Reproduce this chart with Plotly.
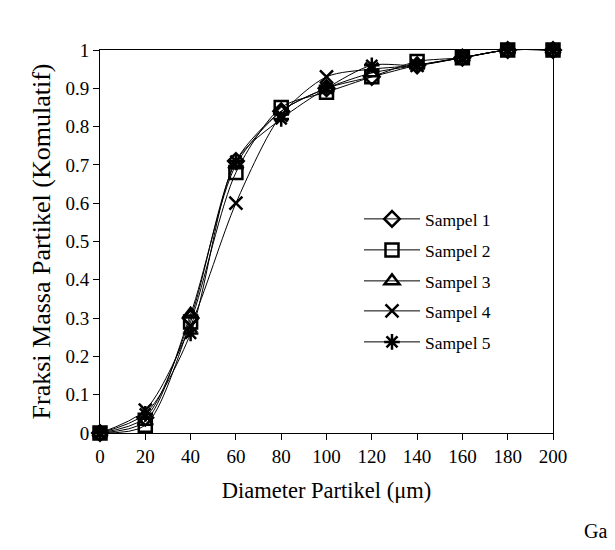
import plotly.graph_objects as go

diameter = [0, 20, 40, 60, 80, 100, 120, 140, 160, 180, 200]
sampel1 = [0, 0.04, 0.30, 0.71, 0.84, 0.90, 0.93, 0.96, 0.98, 1.0, 1.0]
sampel2 = [0, 0.02, 0.29, 0.68, 0.85, 0.89, 0.93, 0.97, 0.98, 1.0, 1.0]
sampel3 = [0, 0.03, 0.31, 0.70, 0.84, 0.90, 0.94, 0.96, 0.98, 1.0, 1.0]
sampel4 = [0, 0.06, 0.28, 0.60, 0.83, 0.93, 0.95, 0.96, 0.98, 1.0, 1.0]
sampel5 = [0, 0.05, 0.26, 0.71, 0.82, 0.90, 0.96, 0.96, 0.98, 1.0, 1.0]
names = ["Sampel 1", "Sampel 2", "Sampel 3", "Sampel 4", "Sampel 5"]
series = [sampel1, sampel2, sampel3, sampel4, sampel5]
symbols = ["diamond-open", "square-open", "triangle-up-open", "x-thin-open", "asterisk-open"]
sizes = [12, 13, 13, 13, 13]
legend_ids = ["legend", "legend2", "legend3", "legend4", "legend5"]

FONT = "Liberation Serif"
fig = go.Figure()
for name, ys, sym, sz, lg in zip(names, series, symbols, sizes, legend_ids):
    fig.add_trace(go.Scatter(
        x=diameter, y=ys, name=name, mode="lines+markers",
        line=dict(color="black", width=1, shape="spline", smoothing=0.8),
        marker=dict(symbol=sym, size=sz, color="black", line=dict(color="black", width=2.5)),
        cliponaxis=False, legend=lg,
    ))

# plot area: x 100..553 px, y 50..433 px
legend_y_px = [219, 250, 281, 311, 342]
layout_legends = {}
for lg, ypx in zip(legend_ids, legend_y_px):
    layout_legends[lg] = dict(
        x=(359 - 100) / 453, xanchor="left",
        y=(433 - ypx) / 383, yanchor="middle",
        font=dict(family=FONT, size=17.5, color="black"),
        bgcolor="rgba(0,0,0,0)", itemwidth=56,
    )

fig.update_layout(
    width=615, height=550,
    margin=dict(l=100, r=62, t=50, b=117),
    paper_bgcolor="white", plot_bgcolor="white",
    font=dict(family=FONT, color="black"),
    showlegend=True,
    xaxis=dict(
        range=[0, 200], tickvals=list(range(0, 201, 20)),
        ticks="outside", ticklen=6, tickwidth=1, tickcolor="black",
        showline=True, linecolor="black", linewidth=1, mirror=True,
        showgrid=False, zeroline=False,
        tickfont=dict(family=FONT, size=19, color="black"),
        title=dict(text="Diameter Partikel (μm)", font=dict(family=FONT, size=22.5, color="black"), standoff=16),
    ),
    yaxis=dict(
        range=[0, 1], tickvals=[0, 0.1, 0.2, 0.3, 0.4, 0.5, 0.6, 0.7, 0.8, 0.9, 1],
        ticktext=["0", "0.1", "0.2", "0.3", "0.4", "0.5", "0.6", "0.7", "0.8", "0.9", "1"],
        ticks="outside", ticklen=6, tickwidth=1, tickcolor="black",
        showline=True, linecolor="black", linewidth=1, mirror=True,
        showgrid=False, zeroline=False,
        tickfont=dict(family=FONT, size=19, color="black"),
        title=dict(text="Fraksi Massa Partikel (Komulatif)", font=dict(family=FONT, size=26, color="black"), standoff=7),
    ),
    annotations=[dict(
        text="Ga", xref="paper", yref="paper", x=(582 - 100) / 453, y=(433 - 531) / 383,
        xanchor="left", yanchor="middle", showarrow=False,
        font=dict(family=FONT, size=20, color="black"),
    )],
    **layout_legends,
)

fig.write_html("out.html")
